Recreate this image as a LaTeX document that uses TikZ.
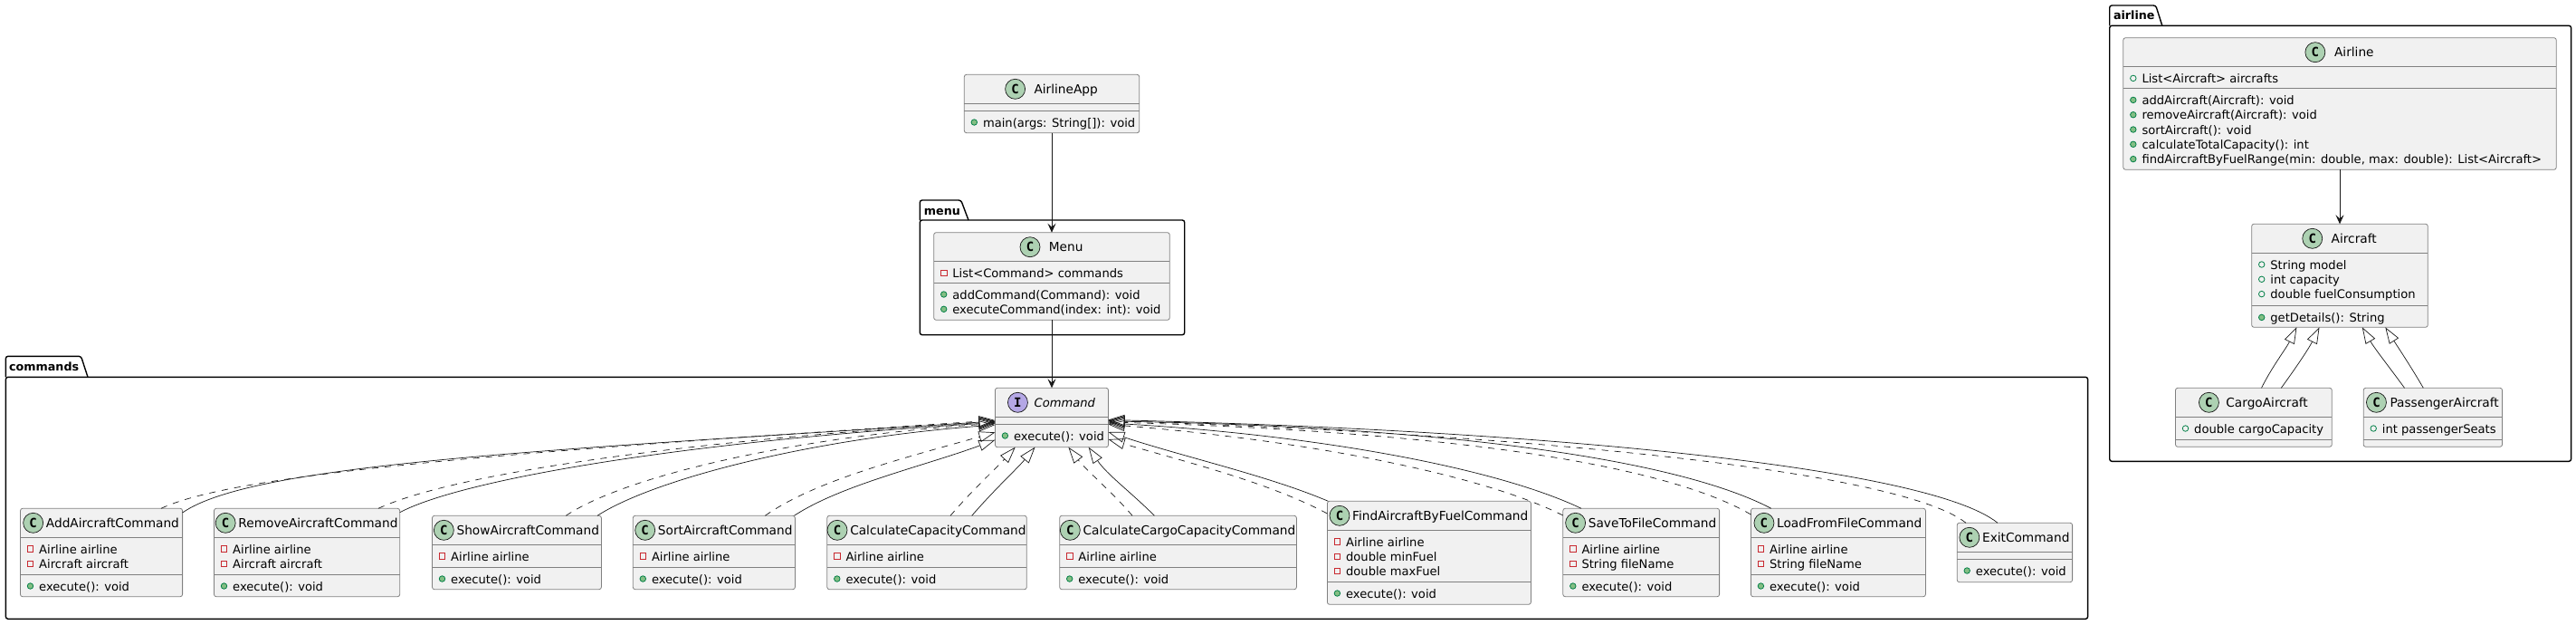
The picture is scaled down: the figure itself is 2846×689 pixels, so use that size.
\documentclass[tikz,border=0pt]{standalone}
\usepackage{fontspec}
\setmainfont{DejaVu Sans}
\newfontfamily\spotfont{DejaVu Sans Mono}
\usepackage{tikz}
\usetikzlibrary{arrows.meta,positioning}

% box with its two compartment lines
\newcommand{\classbody}[6]{
    \node[classbox, minimum width=#3pt, minimum height=#4pt] (#1) at (#2) {};
    \draw[sepline] ([yshift=-#5pt]#1.north west) -- ([yshift=-#5pt]#1.north east);
    \draw[sepline] ([yshift=-#6pt]#1.north west) -- ([yshift=-#6pt]#1.north east);
}
% spot and name, centred together in the header
\newcommand{\classtitle}[3]{
    \node[titletext] (#1-title) at ([xshift={(22+#3)/2*1pt}, yshift=-16pt]#1.north) {#2};
    \node[classspot, left=#3pt of #1-title] (#1-spot) {C};
}
% one compartment of members
\newcommand{\classrows}[4]{
    \foreach \row [count=\i] in {#4} {
        \node[rowtext] (#1-#2-\i) at ([xshift=20.5pt, yshift={-(#3+12.7+(\i-1)*16.3)*1pt}]#1.north west) {\row};
        \node[#2icon] (#1-#2-icon-\i) at ([xshift=11pt, yshift={-(#3+12.7+(\i-1)*16.3)*1pt}]#1.north west) {};
    }
}

\definecolor{boxfill}{HTML}{F1F1F1}
\definecolor{boxline}{HTML}{808080}
\definecolor{inkline}{HTML}{181818}
\definecolor{spotgreen}{HTML}{ADD1B2}
\definecolor{spotviolet}{HTML}{B4A7E5}
\definecolor{privred}{HTML}{C82930}
\definecolor{pubgreen}{HTML}{038048}
\definecolor{pubfill}{HTML}{84BE84}

\begin{document}
\begin{tikzpicture}[
        x=1pt, y=-1pt,
        classbox/.style={draw=boxline, fill=boxfill, line width=0.8pt, rounded corners=2.5pt, inner sep=0pt, outer sep=0pt, anchor=north west},
        sepline/.style={draw=boxline, line width=0.8pt},
        titletext/.style={inner sep=0pt, text height=12pt, text depth=2pt, font=\fontsize{13.7}{15}\selectfont},
        rowtext/.style={anchor=west, inner sep=0pt, text height=12pt, text depth=2pt, font=\fontsize{13.1}{15}\selectfont},
        classspot/.style={circle, draw=inkline, fill=spotgreen, line width=0.7pt, minimum size=22pt, inner sep=0pt, font=\spotfont\bfseries\fontsize{14}{14}\selectfont},
        privicon/.style={rectangle, draw=privred, line width=0.8pt, minimum size=6.5pt, inner sep=0pt},
        fieldicon/.style={circle, draw=pubgreen, line width=0.8pt, minimum size=6.5pt, inner sep=0pt},
        methodicon/.style={circle, draw=pubgreen, fill=pubfill, line width=0.8pt, minimum size=6.5pt, inner sep=0pt},
        pkgbox/.style={draw=black, line width=1.4pt, rounded corners=2.5pt, inner sep=0pt, outer sep=0pt, anchor=north west},
        pkgtab/.style={draw=black, line width=1.4pt, rounded corners=2.5pt},
        pkglabel/.style={anchor=west, inner sep=0pt, text height=12pt, text depth=2pt, font=\bfseries\fontsize{12.7}{15}\selectfont},
        arrow/.style={draw=inkline, line width=0.8pt, -{Stealth[length=10pt, width=9pt, inset=4pt]}},
        extends/.style={draw=inkline, line width=0.7pt, -{Triangle[open, length=18pt, width=12pt]}},
        implements/.style={extends, dash pattern=on 7pt off 7pt}
    ]
    \useasboundingbox (0,0) rectangle (2846,689);

    % packages
    \node[pkgbox, minimum width=2300.2pt, minimum height=267pt] (commandspkg) at (6.4,416.3) {};
    \draw[pkgtab] (commandspkg.north west) -- ++(0,-23) -- ++(83.1,0) -- ([xshift=90.6pt]commandspkg.north west);
    \node[pkglabel] (commandslabel) at ([xshift=3.6pt, yshift=11.5pt]commandspkg.north west) {commands};

    \node[pkgbox, minimum width=292.4pt, minimum height=126.7pt] (menupkg) at (1016.3,243) {};
    \draw[pkgtab] (menupkg.north west) -- ++(0,-22) -- ++(45.4,0) -- ([xshift=53.7pt]menupkg.north west);
    \node[pkglabel] (menulabel) at ([xshift=4.4pt, yshift=11pt]menupkg.north west) {menu};

    \node[pkgbox, minimum width=509.9pt, minimum height=481pt] (airlinepkg) at (2330.7,28.3) {};
    \draw[pkgtab] (airlinepkg.north west) -- ++(0,-22.3) -- ++(51,0) -- ([xshift=58.1pt]airlinepkg.north west);
    \node[pkglabel] (airlinelabel) at ([xshift=4.1pt, yshift=11.5pt]airlinepkg.north west) {airline};

    % classes
    \classbody{app}{1065.3,82.3}{193.4}{64.4}{32}{40}
    \classtitle{app}{AirlineApp}{9.4}
    \classrows{app}{method}{40}{{main(args: String[]): void}}

    \classbody{menucls}{1031.7,256.7}{260.6}{96.6}{32}{55.6}
    \classtitle{menucls}{Menu}{9.3}
    \classrows{menucls}{priv}{32}{{List<Command> commands}}
    \classrows{menucls}{method}{55.6}{{addCommand(Command): void},{executeCommand(index: int): void}}

    \classbody{cmd}{1099.4,428.3}{125.1}{65.4}{32}{40}
    \node[titletext, font=\itshape\fontsize{13.1}{15}\selectfont] (cmd-title) at ([xshift=14.4pt, yshift=-16pt]cmd.north) {Command};
    \node[classspot, fill=spotviolet, left=6.7pt of cmd-title] (cmd-spot) {I};
    \classrows{cmd}{method}{40}{{execute(): void}}

    \classbody{addcmd}{22.5,561.3}{179.1}{97.4}{32}{73}
    \classtitle{addcmd}{AddAircraftCommand}{2.7}
    \classrows{addcmd}{priv}{32}{{Airline airline},{Aircraft aircraft}}
    \classrows{addcmd}{method}{73}{{execute(): void}}

    \classbody{removecmd}{236.5,561.3}{205.2}{97.4}{32}{73}
    \classtitle{removecmd}{RemoveAircraftCommand}{2.7}
    \classrows{removecmd}{priv}{32}{{Airline airline},{Aircraft aircraft}}
    \classrows{removecmd}{method}{73}{{execute(): void}}

    \classbody{showcmd}{477.5,569.3}{186.9}{81.4}{32}{57}
    \classtitle{showcmd}{ShowAircraftCommand}{2.7}
    \classrows{showcmd}{priv}{32}{{Airline airline}}
    \classrows{showcmd}{method}{57}{{execute(): void}}

    \classbody{sortcmd}{699.3,569.3}{179.1}{81.4}{32}{57}
    \classtitle{sortcmd}{SortAircraftCommand}{2.7}
    \classrows{sortcmd}{priv}{32}{{Airline airline}}
    \classrows{sortcmd}{method}{57}{{execute(): void}}

    \classbody{calccmd}{913.8,569.3}{220.5}{81.4}{32}{57}
    \classtitle{calccmd}{CalculateCapacityCommand}{2.7}
    \classrows{calccmd}{priv}{32}{{Airline airline}}
    \classrows{calccmd}{method}{57}{{execute(): void}}

    \classbody{cargocmd}{1170.7,569.3}{261.7}{81.4}{32}{57}
    \classtitle{cargocmd}{CalculateCargoCapacityCommand}{2.7}
    \classrows{cargocmd}{priv}{32}{{Airline airline}}
    \classrows{cargocmd}{method}{57}{{execute(): void}}

    \classbody{findcmd}{1466.4,553.3}{225}{114}{32}{89}
    \classtitle{findcmd}{FindAircraftByFuelCommand}{2.7}
    \classrows{findcmd}{priv}{32}{{Airline airline},{double minFuel},{double maxFuel}}
    \classrows{findcmd}{method}{89}{{execute(): void}}

    \classbody{savecmd}{1726.8,561.3}{172.8}{97.4}{32}{73}
    \classtitle{savecmd}{SaveToFileCommand}{2.7}
    \classrows{savecmd}{priv}{32}{{Airline airline},{String fileName}}
    \classrows{savecmd}{method}{73}{{execute(): void}}

    \classbody{loadcmd}{1934.4,561.3}{193}{97.4}{32}{73}
    \classtitle{loadcmd}{LoadFromFileCommand}{2.7}
    \classrows{loadcmd}{priv}{32}{{Airline airline},{String fileName}}
    \classrows{loadcmd}{method}{73}{{execute(): void}}

    \classbody{exitcmd}{2162.2,577.3}{127.4}{65.4}{32}{40}
    \classtitle{exitcmd}{ExitCommand}{2.7}
    \classrows{exitcmd}{method}{40}{{execute(): void}}

    \classbody{airline}{2345.8,41.7}{478.4}{145.6}{32}{56}
    \classtitle{airline}{Airline}{9.7}
    \classrows{airline}{field}{32}{{List<Aircraft> aircrafts}}
    \classrows{airline}{method}{56}{{addAircraft(Aircraft): void},{removeAircraft(Aircraft): void},{sortAircraft(): void},{calculateTotalCapacity(): int},{findAircraftByFuelRange(min: double, max: double): List<Aircraft>}}

    \classbody{aircraft}{2487.7,247.3}{194.6}{114}{32}{90.4}
    \classtitle{aircraft}{Aircraft}{9.4}
    \classrows{aircraft}{field}{32}{{String model},{int capacity},{double fuelConsumption}}
    \classrows{aircraft}{method}{90.4}{{getDetails(): String}}

    \classbody{cargo}{2403.5,428.3}{172.8}{65}{32}{57}
    \classtitle{cargo}{CargoAircraft}{7.4}
    \classrows{cargo}{field}{32}{{double cargoCapacity}}

    \classbody{passenger}{2611.2,428.3}{153.3}{65}{32}{57}
    \classtitle{passenger}{PassengerAircraft}{3.5}
    \classrows{passenger}{field}{32}{{int passengerSeats}}

    % associations
    \draw[arrow] (menucls.north |- app.south) -- (menucls.north);
    \draw[arrow] (menucls.south) -- (menucls.south |- cmd.north);
    \draw[arrow] (airline.south) -- (airline.south |- aircraft.north);

    % left side of Command
    \draw[implements] ([xshift=-23.6pt]addcmd.north east) .. controls +(87,-41) and +(-499,33) .. ([yshift=-35.7pt]cmd.north west);
    \draw[extends] ([yshift=-4.7pt]addcmd.north east) .. controls +(78,-54) and +(-499,32) .. ([yshift=-36.7pt]cmd.north west);
    \draw[implements] ([xshift=-23.7pt]removecmd.north east) .. controls +(82,-38) and +(-349,21.5) .. ([yshift=-37.2pt]cmd.north west);
    \draw[extends] ([yshift=-4.4pt]removecmd.north east) .. controls +(68,-36) and +(-349,21.5) .. ([yshift=-38.2pt]cmd.north west);
    \draw[implements] ([xshift=-39.1pt]showcmd.north east) .. controls +(65,-44) and +(-219,14.5) .. ([yshift=-39.2pt]cmd.north west);
    \draw[extends] ([xshift=-4.4pt]showcmd.north east) .. controls +(60,-39) and +(-209,16) .. ([yshift=-40.7pt]cmd.north west);
    \draw[implements] ([xshift=-33pt]sortcmd.north east) .. controls +(55,-39) and +(-99,28) .. ([yshift=-49pt]cmd.north west);
    \draw[extends] ([xshift=-1pt]sortcmd.north east) .. controls +(52,-34) and +(-79,29) .. ([yshift=-57.4pt]cmd.north west);

    % bottom of Command
    \draw[implements] ([xshift=136.2pt]calccmd.north west) .. controls +(24,-28) and +(-22,24) .. ([xshift=22.3pt]cmd.south west);
    \draw[extends] ([xshift=159.9pt]calccmd.north west) .. controls +(26,-30) and +(-20,24) .. ([xshift=44.1pt]cmd.south west);
    \draw[implements] ([xshift=80.3pt]cargocmd.north west) .. controls +(-22,-26) and +(20,26) .. ([xshift=81pt]cmd.south west);
    \draw[extends] ([xshift=104.7pt]cargocmd.north west) .. controls +(-26,-26) and +(20,30) .. ([xshift=103.3pt]cmd.south west);

    % right side of Command
    \draw[implements] ([yshift=-13.7pt]findcmd.north west) .. controls +(-66,-35) and +(85.5,25) .. ([yshift=-56.7pt]cmd.north east);
    \draw[extends] ([xshift=1pt]findcmd.north west) .. controls +(-66,-28) and +(85.5,28) .. ([yshift=-48.7pt]cmd.north east);
    \draw[implements] ([yshift=-7.7pt]savecmd.north west) .. controls +(-87,-44) and +(225.5,18.5) .. ([yshift=-40.2pt]cmd.north east);
    \draw[extends] ([xshift=20.2pt]savecmd.north west) .. controls +(-97,-46) and +(225.5,13) .. ([yshift=-38.7pt]cmd.north east);
    \draw[implements] ([yshift=-6.7pt]loadcmd.north west) .. controls +(-109,-63) and +(325.5,9) .. ([yshift=-37.7pt]cmd.north east);
    \draw[extends] ([xshift=22.4pt]loadcmd.north west) .. controls +(-117,-61) and +(325.5,5) .. ([yshift=-36.7pt]cmd.north east);
    \draw[implements] ([xshift=9.8pt]exitcmd.north west) .. controls +(-72,-57) and +(475.5,15.5) .. ([yshift=-36.2pt]cmd.north east);
    \draw[extends] ([xshift=44.8pt]exitcmd.north west) .. controls +(-77,-62) and +(475.5,11.5) .. ([yshift=-35.2pt]cmd.north east);

    % Aircraft subclasses
    \draw[extends] ([xshift=95pt]cargo.north west) .. controls +(12,-24) and +(-12,24) .. ([xshift=49.7pt]aircraft.south west);
    \draw[extends] ([xshift=116.8pt]cargo.north west) .. controls +(16,-22) and +(-12,24) .. ([xshift=74.8pt]aircraft.south west);
    \draw[extends] ([xshift=45.3pt]passenger.north west) .. controls +(-16,-22) and +(14,24) .. ([xshift=122.1pt]aircraft.south west);
    \draw[extends] ([xshift=66.1pt]passenger.north west) .. controls +(-14,-24) and +(14,22) .. ([xshift=147.6pt]aircraft.south west);
\end{tikzpicture}
\end{document}
